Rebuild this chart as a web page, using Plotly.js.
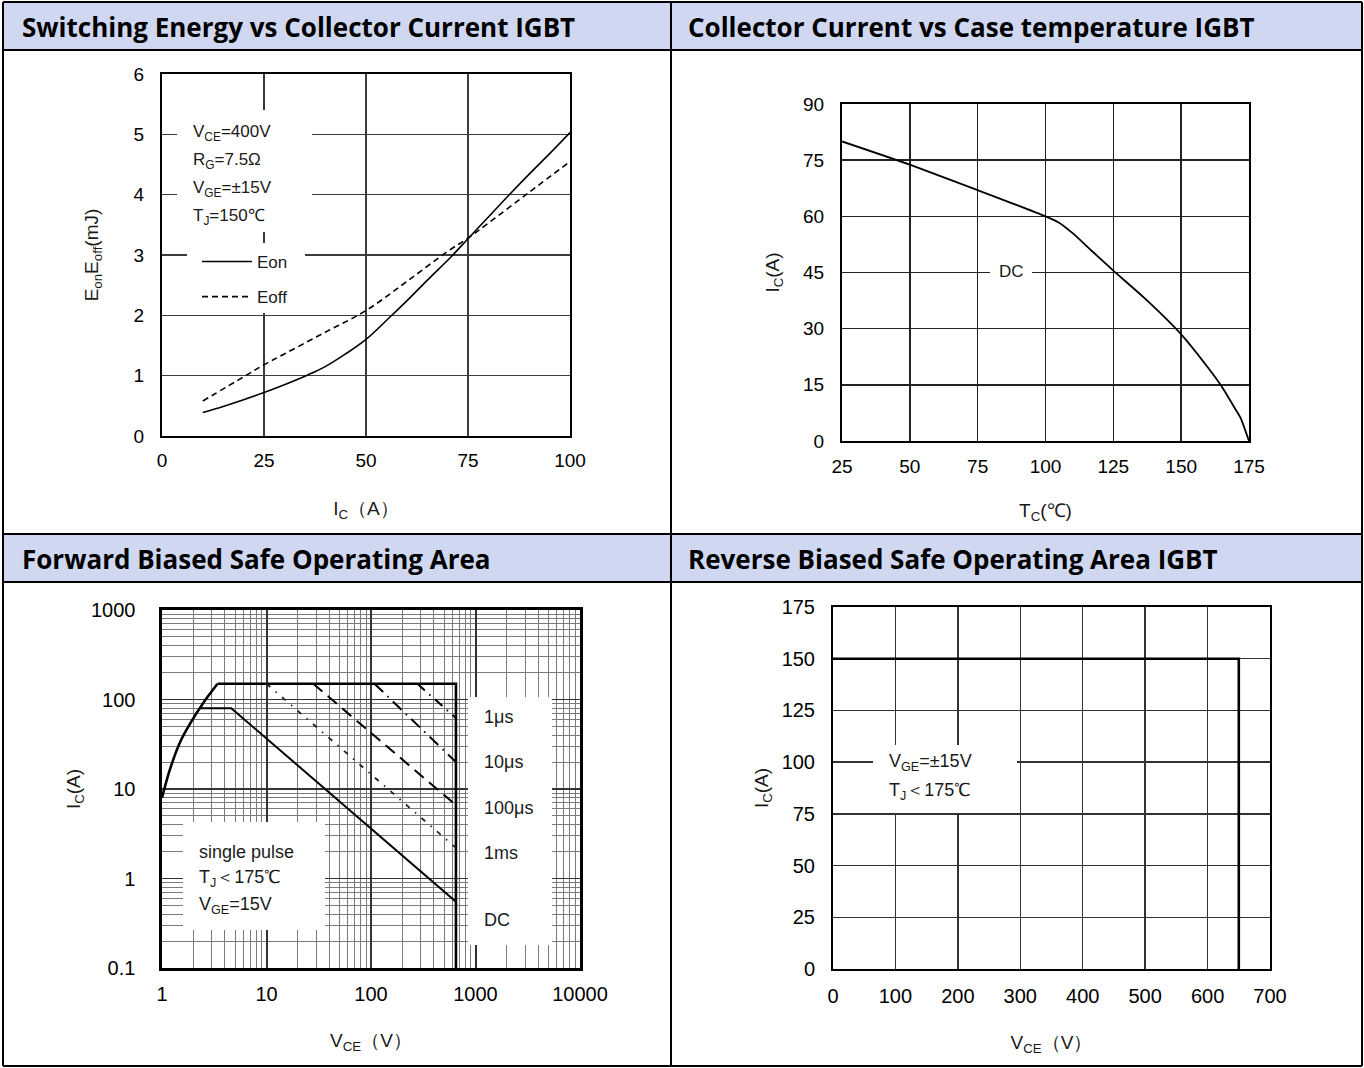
<!DOCTYPE html>
<html>
<head>
<meta charset="utf-8">
<script src="https://cdn.plot.ly/plotly-3.0.1.min.js"></script>
<style>html,body{margin:0;padding:0;background:#fff;}#chart{width:1364px;height:1068px;}</style>
</head>
<body>
<div id="chart"></div>
<script>
// ---------------- data ----------------
const panelTitles = [
  "Switching Energy vs Collector Current IGBT",
  "Collector Current vs Case temperature IGBT",
  "Forward Biased Safe Operating Area",
  "Reverse Biased Safe Operating Area IGBT"
];

// Panel 1: switching energy
const eIc   = [10, 15, 20, 25, 30, 36, 40, 45, 50, 56, 60, 65, 71, 75, 80, 85, 90, 95, 100];
const eOn   = [0.39, 0.49, 0.60, 0.72, 0.85, 1.02, 1.15, 1.36, 1.60, 1.98, 2.24, 2.58, 2.98, 3.27, 3.63, 3.99, 4.34, 4.68, 5.03];
const eIcOff = [10, 20, 25, 30, 40, 50, 60, 70, 75, 80, 90, 100];
const eOff   = [0.58, 0.98, 1.18, 1.36, 1.72, 2.08, 2.56, 3.06, 3.28, 3.53, 4.04, 4.55];
const p1XTicks = [0, 25, 50, 75, 100];
const p1YTicks = [0, 1, 2, 3, 4, 5, 6];
const p1Notes = ["V<sub>CE</sub>=400V", "R<sub>G</sub>=7.5Ω", "V<sub>GE</sub>=±15V", "T<sub>J</sub>=150℃"];

// Panel 2: collector current vs case temperature
const tcTemp = [25, 50, 75, 100, 105, 110, 117, 125, 137.5, 150, 160, 165, 170, 172, 175];
const tcCurr = [80, 73.8, 67, 60, 58.3, 55.5, 50.8, 45.5, 37.5, 28.5, 19.5, 14.5, 8.5, 6, 0];
const p2XTicks = [25, 50, 75, 100, 125, 150, 175];
const p2YTicks = [0, 15, 30, 45, 60, 75, 90];

// Panel 3: forward biased SOA (log-log)
const riseV = [1, 1.2, 1.5, 2, 2.3, 2.7, 3.4];
const riseI = [8, 17, 34, 62, 80, 105, 150];
const limV = [3.4, 650, 650];
const limI = [150, 150, 0.1];
const dcV = [2.3, 4.6, 650];
const dcI = [80, 80, 0.55];
const ms1V = [10, 650],   ms1I = [150, 2.2];
const us100V = [28, 650], us100I = [150, 6.6];
const us10V = [108, 650], us10I = [150, 20];
const us1V = [278, 650],  us1I = [150, 62];
const p3XTicks = [1, 10, 100, 1000, 10000];
const p3XText  = ["1", "10", "100", "1000", "10000"];
const p3YTicks = [0.1, 1, 10, 100, 1000];
const p3YText  = ["0.1", "1", "10", "100", "1000"];
const p3PulseLabels = ["1μs", "10μs", "100μs", "1ms", "DC"];
const p3Notes = ["single pulse", "T<sub>J</sub>＜175℃", "V<sub>GE</sub>=15V"];

// Panel 4: reverse biased SOA
const rbV = [0, 650, 650];
const rbI = [150, 150, 0];
const p4XTicks = [0, 100, 200, 300, 400, 500, 600, 700];
const p4YTicks = [0, 25, 50, 75, 100, 125, 150, 175];
const p4Notes = ["V<sub>GE</sub>=±15V", "T<sub>J</sub>＜175℃"];

// ---------------- layout helpers ----------------
const W = 1364, H = 1068;
const PX = x => x / W;
const PY = y => 1 - y / H;
const FONT = "Liberation Sans, Arial, sans-serif";
const TXT = "#1a1a1a";

function axis(d0, d1, range, tickvals, ticktext, opt) {
  const a = {
    domain: [d0, d1], range: range, tickmode: "array", tickvals: tickvals,
    ticktext: ticktext || tickvals.map(String),
    showgrid: true, gridcolor: opt.grid || "#333", gridwidth: opt.gw || 1.3,
    zeroline: false, showline: true, mirror: true, linecolor: "#000",
    linewidth: opt.lw || 2, ticks: "outside", ticklen: opt.tl || 12,
    tickcolor: "rgba(0,0,0,0)", tickfont: {family: FONT, size: opt.fs || 19, color: "#000"},
    fixedrange: true, anchor: opt.anchor,
    title: {text: opt.title, font: {family: FONT, size: 19, color: TXT}, standoff: opt.so || 20}
  };
  if (opt.type) a.type = opt.type;
  if (opt.minor) a.minor = opt.minor;
  return a;
}

const traces = [
  {x: eIc, y: eOn, name: "Eon", legendgroup: "on", mode: "lines", line: {color: "#000", width: 1.6, shape: "spline"}, xaxis: "x", yaxis: "y"},
  {x: eIcOff, y: eOff, name: "Eoff", legendgroup: "off", mode: "lines", line: {color: "#000", width: 1.6, dash: "6px,4px", shape: "spline"}, xaxis: "x", yaxis: "y"},
  {x: tcTemp, y: tcCurr, name: "DC", showlegend: false, mode: "lines", line: {color: "#000", width: 1.8, shape: "spline", smoothing: 0.6}, xaxis: "x2", yaxis: "y2"},
  {x: riseV, y: riseI, name: "SOA", showlegend: false, mode: "lines", line: {color: "#000", width: 2.6, shape: "spline"}, xaxis: "x3", yaxis: "y3"},
  {x: limV, y: limI, name: "SOA limit", showlegend: false, mode: "lines", line: {color: "#000", width: 2.6}, xaxis: "x3", yaxis: "y3"},
  {x: dcV, y: dcI, name: "DC", showlegend: false, mode: "lines", line: {color: "#000", width: 2}, xaxis: "x3", yaxis: "y3"},
  {x: ms1V, y: ms1I, name: "1ms", showlegend: false, mode: "lines", line: {color: "#222", width: 1.8, dash: "5px,7px,1.5px,7px"}, xaxis: "x3", yaxis: "y3"},
  {x: us100V, y: us100I, name: "100μs", showlegend: false, mode: "lines", line: {color: "#000", width: 2, dash: "12px,7px"}, xaxis: "x3", yaxis: "y3"},
  {x: us10V, y: us10I, name: "10μs", showlegend: false, mode: "lines", line: {color: "#000", width: 2, dash: "12px,6px,1.5px,6px"}, xaxis: "x3", yaxis: "y3"},
  {x: us1V, y: us1I, name: "1μs", showlegend: false, mode: "lines", line: {color: "#000", width: 2, dash: "10px,6px,1.5px,6px"}, xaxis: "x3", yaxis: "y3"},
  {x: rbV, y: rbI, name: "RBSOA", showlegend: false, mode: "lines", line: {color: "#000", width: 2.6}, xaxis: "x4", yaxis: "y4"}
];

// frame & headers
const shapes = [];
const headerRows = [[2, 50], [534, 582]];
headerRows.forEach(r => shapes.push({type: "rect", xref: "paper", yref: "paper", x0: PX(3), x1: PX(1362), y0: PY(r[1]), y1: PY(r[0]), fillcolor: "#cfd8f0", line: {width: 0}, layer: "below"}));
[2, 50, 534, 582, 1066].forEach(y => shapes.push({type: "line", xref: "paper", yref: "paper", x0: PX(3), x1: PX(1362), y0: PY(y), y1: PY(y), line: {color: "#000", width: 2}}));
[3, 671, 1362].forEach(x => shapes.push({type: "line", xref: "paper", yref: "paper", x0: PX(x), x1: PX(x), y0: PY(2), y1: PY(1066), line: {color: "#000", width: 2}}));
// white boxes behind in-plot notes
const whiteBoxes = [[177, 110, 312, 232], [187, 243, 305, 313], [990, 262, 1032, 284], [183, 822, 325, 930], [468, 697, 552, 945], [873, 745, 1017, 813]];
whiteBoxes.forEach(b => shapes.push({type: "rect", xref: "paper", yref: "paper", x0: PX(b[0]), x1: PX(b[2]), y0: PY(b[3]), y1: PY(b[1]), fillcolor: "#fff", line: {width: 0}, layer: "above"}));

const ann = [];
const headerPos = [[20, 27], [686, 27], [20, 559], [686, 559]];
panelTitles.forEach((t, i) => ann.push({text: "<b>" + t + "</b>", xref: "paper", yref: "paper", x: PX(headerPos[i][0]), y: PY(headerPos[i][1]), xanchor: "left", yanchor: "middle", showarrow: false, font: {family: "Open Sans, sans-serif", size: 26, color: "#000"}}));
const noteFont = s => ({family: FONT, size: s, color: TXT});
p1Notes.forEach((t, i) => ann.push({text: t, xref: "paper", yref: "paper", x: PX(191), y: PY(133 + 28 * i), xanchor: "left", yanchor: "middle", showarrow: false, font: noteFont(17)}));
ann.push({text: "DC", xref: "paper", yref: "paper", x: PX(1011), y: PY(272), xanchor: "center", yanchor: "middle", showarrow: false, font: noteFont(17)});
p3Notes.forEach((t, i) => ann.push({text: t, xref: "paper", yref: "paper", x: PX(197), y: PY(852 + 26.5 * i), xanchor: "left", yanchor: "middle", showarrow: false, font: noteFont(18)}));
const pulseY = [717, 762, 808, 853, 920];
p3PulseLabels.forEach((t, i) => ann.push({text: t, xref: "paper", yref: "paper", x: PX(482), y: PY(pulseY[i]), xanchor: "left", yanchor: "middle", showarrow: false, font: noteFont(18)}));
p4Notes.forEach((t, i) => ann.push({text: t, xref: "paper", yref: "paper", x: PX(887), y: PY(762 + 29 * i), xanchor: "left", yanchor: "middle", showarrow: false, font: noteFont(18)}));

const layout = {
  width: W, height: H, margin: {l: 0, r: 0, t: 0, b: 0}, paper_bgcolor: "#fff", plot_bgcolor: "rgba(0,0,0,0)",
  showlegend: true,
  legend: {x: PX(197), y: PY(244), xanchor: "left", yanchor: "top", bgcolor: "rgba(0,0,0,0)", borderwidth: 0,
           font: {family: FONT, size: 17, color: TXT}, traceorder: "grouped", tracegroupgap: 10, itemwidth: 50},
  xaxis: axis(PX(162), PX(570), [0, 100], p1XTicks, null, {anchor: "y", title: "I<sub>C</sub>（A）", so: 32, grid: "#3c3c3c", tl: 6}),
  yaxis: axis(PY(436), PY(74), [0, 6], p1YTicks, null, {anchor: "x", title: "E<sub>on</sub>E<sub>off</sub>(mJ)", so: 30, grid: "#3c3c3c"}),
  xaxis2: axis(PX(842), PX(1249), [25, 175], p2XTicks, null, {anchor: "y2", title: "T<sub>C</sub>(℃)", so: 28, grid: "#222", gw: 1.6, tl: 7}),
  yaxis2: axis(PY(441), PY(104), [0, 90], p2YTicks, null, {anchor: "x2", title: "I<sub>C</sub>(A)", so: 18, grid: "#222", gw: 1.6}),
  xaxis3: axis(PX(162), PX(580), [0, 4], p3XTicks, p3XText, {anchor: "y3", type: "log", title: "V<sub>CE</sub>（V）", so: 30, grid: "#333", gw: 2, lw: 2.6, fs: 20, tl: 6,
          minor: {dtick: "D1", showgrid: true, gridcolor: "#7a7a7a", gridwidth: 1}}),
  yaxis3: axis(PY(968), PY(610), [-1, 3], p3YTicks, p3YText, {anchor: "x3", type: "log", title: "I<sub>C</sub>(A)", so: 6, grid: "#333", gw: 1.5, lw: 2.6, fs: 20, tl: 20,
          minor: {dtick: "D1", showgrid: true, gridcolor: "#7a7a7a", gridwidth: 1}}),
  xaxis4: axis(PX(833), PX(1270), [0, 700], p4XTicks, null, {anchor: "y4", title: "V<sub>CE</sub>（V）", so: 30, grid: "#333", gw: 1.5, fs: 20, tl: 8}),
  yaxis4: axis(PY(969), PY(607), [0, 175], p4YTicks, null, {anchor: "x4", title: "I<sub>C</sub>(A)", so: 8, grid: "#333", gw: 1.5, fs: 20}),
  shapes: shapes,
  annotations: ann
};

Plotly.newPlot("chart", traces, layout, {displayModeBar: false, staticPlot: true});
</script>
</body>
</html>
